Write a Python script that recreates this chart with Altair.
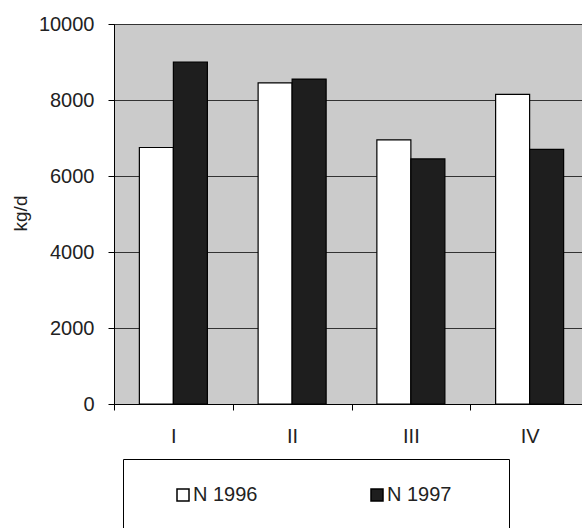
import altair as alt
import pandas as pd

quarters = ["I", "II", "III", "IV"]
series = ["N 1996", "N 1997"]
n1996 = [6750, 8450, 6950, 8150]
n1997 = [9000, 8550, 6450, 6700]
y_ticks = [0, 2000, 4000, 6000, 8000, 10000]

rows = []
for q, a, b in zip(quarters, n1996, n1997):
    rows.append({"q": q, "s": series[0], "v": a})
    rows.append({"q": q, "s": series[1], "v": b})
df = pd.DataFrame(rows)

font = "Liberation Sans"

chart = alt.Chart(df).mark_bar(stroke="black", strokeWidth=1.2).encode(
    x=alt.X(
        "q:N",
        sort=quarters,
        scale=alt.Scale(domain=quarters, range=[0, 475], paddingInner=0, paddingOuter=0),
        axis=alt.Axis(
            title=None, labelAngle=0, tickBand="extent", tickSize=6, labelPadding=16,
            labelFontSize=20, labelFont=font, labelColor="#222", domainColor="black",
            tickColor="black", grid=False,
        ),
    ),
    xOffset=alt.XOffset(
        "s:N", sort=series,
        scale=alt.Scale(domain=series, paddingInner=0, paddingOuter=0.746),
    ),
    y=alt.Y(
        "v:Q",
        scale=alt.Scale(domain=[0, 10000]),
        axis=alt.Axis(
            values=y_ticks, format="d", title="kg/d", titleFont=font, titleFontSize=19,
            titleFontWeight="normal", titleColor="#222", titleX=-94, titleY=189,
            titleAngle=270, titleBaseline="middle", titleAlign="center",
            labelFontSize=20, labelFont=font, labelColor="#222", labelPadding=14,
            tickSize=6, tickColor="black", domainColor="black",
            grid=True, gridColor="#333333", gridWidth=1,
        ),
    ),
    fill=alt.Fill(
        "s:N",
        sort=series,
        scale=alt.Scale(domain=series, range=["white", "#1e1e1e"]),
        legend=alt.Legend(
            title=" ", titleOrient="right", titlePadding=32, titleFontSize=20,
            orient="none", legendX=9, legendY=435, direction="horizontal",
            strokeColor="black", fillColor="white", padding=26,
            symbolType="square", symbolSize=144, symbolStrokeColor="black",
            symbolStrokeWidth=1.5, symbolOffset=24,
            labelFontSize=20, labelFont=font, labelColor="#222", labelOffset=0,
            columnPadding=85,
        ),
    ),
).properties(
    width=468,
    height=380,
    padding={"left": 114, "top": 24, "right": 0, "bottom": 124},
    autosize="none",
    background="white",
).configure_view(
    fill="#cbcbcb", stroke="black", strokeWidth=1
)

chart.save("out.html", embed_options={"renderer": "svg", "actions": False})
